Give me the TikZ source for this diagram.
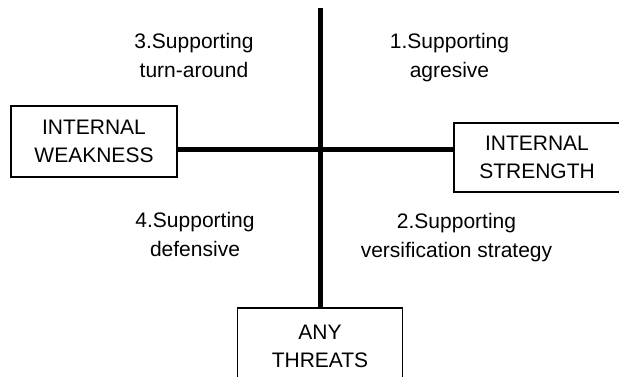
\documentclass[tikz,border=0pt]{standalone}
\usepackage{fontspec}
\setmainfont{Liberation Sans}
\begin{document}
\begin{tikzpicture}[x=1pt,y=-1pt,
  box/.style={draw=black, line width=1.8pt, rectangle, align=center, inner sep=0pt,
    font=\fontsize{21}{28}\selectfont},
  quad/.style={anchor=north, inner sep=0pt, align=center,
    font=\fontsize{21}{29}\selectfont},
  axis/.style={line width=5pt, black}]
\clip (0,0) rectangle (619,377);
\fill[white] (0,0) rectangle (619,377);
% boxes
\node[box, minimum width=166pt, minimum height=71pt] (WK) at (94,141.5) {INTERNAL\\WEAKNESS};
\node[box, minimum width=166pt, minimum height=69pt] (ST) at (537,157.5) {INTERNAL\\STRENGTH};
\node[box, minimum width=165pt, minimum height=76pt] (TH) at (320,346) {ANY\\THREATS};
% axes
\coordinate (hl) at (0,149.5);
\coordinate (top) at (320,8);
\draw[axis] (WK.east |- hl) -- (ST.west |- hl);
\draw[axis] (top) -- (TH.north);
% quadrant labels
\node[quad] (q3) at (194,32.7) {3.Supporting\\turn-around};
\node[quad] (q1) at (449.5,32.7) {1.Supporting\\agresive};
\node[quad] (q4) at (195,211.7) {4.Supporting\\defensive};
\node[quad] (q2) at (456.5,212.7) {2.Supporting\\versification strategy};
\end{tikzpicture}
\end{document}
